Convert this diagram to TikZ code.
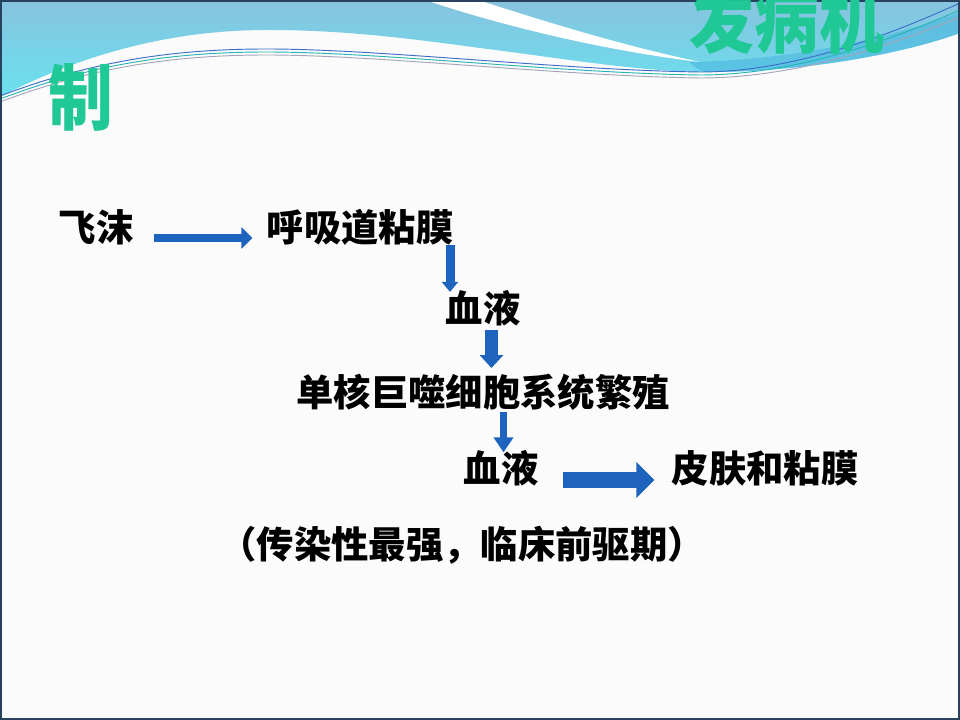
\documentclass[tikz,border=0pt]{standalone}
\usepackage{fontspec}
\usepackage{graphicx}
\usetikzlibrary{arrows.meta}
\newfontfamily\cjk{Noto Sans CJK SC}
\definecolor{arrowblue}{RGB}{30,100,190}
\definecolor{titlegreen}{RGB}{32,200,150}
\definecolor{wavetop}{RGB}{135,195,222}
\definecolor{wavebot}{RGB}{105,225,240}
\definecolor{waveband}{RGB}{70,180,222}
\definecolor{frame}{RGB}{40,65,95}
\definecolor{paper}{RGB}{251,251,251}
\tikzset{
  lbl/.style={font=\cjk\bfseries\fontsize{28}{28}\selectfont, inner sep=0pt, text=black},
  ttl/.style={font=\cjk\bfseries\fontsize{54}{54}\selectfont, inner sep=0pt, text=titlegreen},
  barrow/.style n args={3}{draw=arrowblue, line width=#1, -{Triangle[width=#2,length=#3]}},
  waveline/.style={line width=0.7pt}
}
\begin{document}
\begin{tikzpicture}[x=0.75pt,y=-0.75pt]
\useasboundingbox (0,0) rectangle (960,720);
\fill[paper] (0,0) rectangle (960,720);
% top wave
\shade[top color=wavetop, bottom color=wavebot]
  (0,0) -- (960,0) -- (960,33)
  .. controls (900,55) and (800,72) .. (710,72)
  .. controls (640,72) and (560,58) .. (480,48)
  .. controls (420,40) and (350,30) .. (267,30)
  .. controls (170,30) and (80,55) .. (0,97) -- cycle;
\fill[waveband, opacity=0.55]
  (690,62) .. controls (800,60) and (900,35) .. (960,12) -- (960,33)
  .. controls (900,55) and (800,72) .. (710,72) .. controls (700,72) and (695,68) .. (690,62) -- cycle;
\fill[white]
  (425,0) .. controls (500,25) and (600,50) .. (700,62)
  .. controls (620,45) and (540,20) .. (478,0) -- cycle;
\draw[waveline, draw={rgb,255:red,60;green,110;blue,200}]
  (0,96) .. controls (90,62) and (170,49) .. (267,49) .. controls (380,49) and (560,70) .. (700,72) .. controls (800,72) and (900,30) .. (960,3);
\draw[waveline, draw={rgb,255:red,40;green,180;blue,180}]
  (0,99) .. controls (90,65) and (170,52) .. (267,52) .. controls (380,52) and (560,73) .. (700,75) .. controls (800,75) and (900,36) .. (960,10);
\draw[waveline, draw={rgb,255:red,165;green,165;blue,185}]
  (0,102) .. controls (90,68) and (170,55) .. (267,55) .. controls (380,55) and (560,76) .. (700,78) .. controls (800,78) and (900,42) .. (960,17);
% frame
\draw[frame, line width=1.5pt] (1,1) rectangle (959,719);
% title
\node[ttl] (t1) at (787,20) {\scalebox{0.9}[1]{发病机}};
\node[ttl] (t2) at (81,97) {\scalebox{0.9}[1]{制}};
% labels
\node[lbl] (feimo) at (96,227) {飞沫};
\node[lbl] (huxi) at (360,227) {呼吸道粘膜};
\node[lbl] (xy1) at (483,308) {血液};
\node[lbl] (danhe) at (483,392) {单核巨噬细胞系统繁殖};
\node[lbl] (xy2) at (501,468) {血液};
\node[lbl] (pifu) at (765,468) {皮肤和粘膜};
\node[lbl] (note) at (462,545) {（传染性最强，临床前驱期）};
% arrows
\draw[barrow={6pt}{15.75pt}{8.25pt}] ([shift={(20,11)}]feimo.east) -- ([shift={(-14,11)}]huxi.west);
\draw[barrow={6.75pt}{12pt}{7.5pt}] ([shift={(90,0)}]huxi.south) -- ([shift={(-33,2)}]xy1.north);
\draw[barrow={9.75pt}{17.25pt}{9.75pt}] ([shift={(8.5,3.5)}]xy1.south) -- ([shift={(8.5,-5.5)}]danhe.north);
\draw[barrow={5.25pt}{14.25pt}{11.25pt}] ([shift={(20.5,1.5)}]danhe.south) -- ([shift={(2.5,2.5)}]xy2.north);
\draw[barrow={12pt}{26.25pt}{13.5pt}] ([shift={(24,12)}]xy2.east) -- ([shift={(-17,12)}]pifu.west);
\end{tikzpicture}
\end{document}
